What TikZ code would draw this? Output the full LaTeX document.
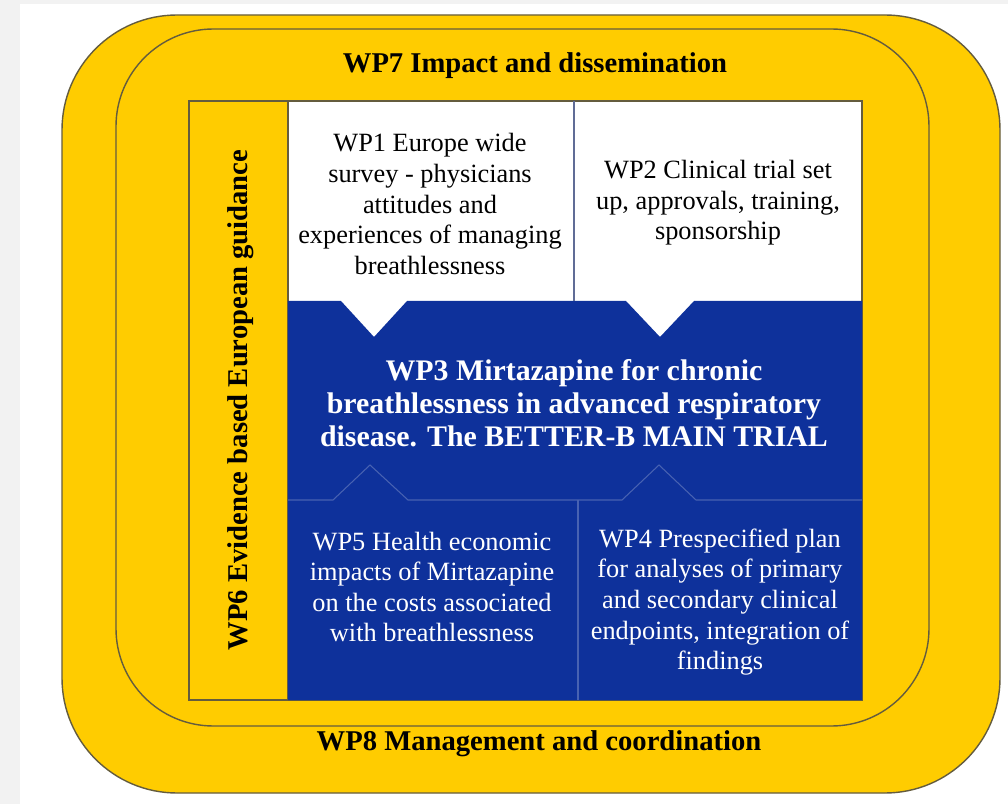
\documentclass[tikz,border=0pt]{standalone}
\usepackage{fontspec}
\setmainfont{Liberation Serif}

% 定义颜色
\definecolor{wpyellow}{RGB}{255,204,0}
\definecolor{wpblue}{RGB}{14,49,155}
\definecolor{wpedge}{RGB}{100,92,62}
\definecolor{wpthin}{RGB}{72,98,178}
\definecolor{wpgrid}{RGB}{96,108,150}
\definecolor{pagegray}{RGB}{242,242,242}

\tikzset{
  frame/.style={draw=wpedge, line width=0.8pt, fill=wpyellow},
  heading/.style={font=\bfseries\fontsize{16.3}{19}\selectfont, inner sep=0pt},
  wptext/.style={font=\fontsize{15}{17.4}\selectfont, align=center, inner sep=0pt},
  wpmain/.style={font=\bfseries\fontsize{17}{18.8}\selectfont, align=center, inner sep=0pt, text=white}
}

\begin{document}
\begin{tikzpicture}[x=0.02cm, y=-0.02cm]

% 背景
\useasboundingbox (0,0) rectangle (1008,804);
\fill[pagegray] (0,0) rectangle (1008,804);
\fill[white] (20,4) rectangle (1008,804);

% 外框 WP8 和 WP7
\draw[frame, rounded corners=2.3cm] (62,15) rectangle (1000,793);
\draw[frame, rounded corners=1.95cm] (116,29) rectangle (929,726);

% 内部方框
\draw[wpedge, line width=0.7pt, fill=white] (189,101) rectangle (862,700);
\draw[wpedge, line width=0.7pt, fill=wpyellow] (189,101) rectangle (288,700);

% 蓝色区域，上方两个缺口
\fill[wpblue] (288,301) -- (341,301) -- (374,337) -- (407,301)
  -- (626,301) -- (660,337) -- (694,301) -- (862,301)
  -- (862,700) -- (288,700) -- cycle;
\draw[wpgrid, line width=0.6pt] (574,101) -- (574,301);

% 下方两个框的轮廓
\draw[wpthin, line width=0.6pt] (288,500) -- (333,500) -- (370,465) -- (408,500)
  -- (622,500) -- (659,465) -- (696,500) -- (862,500);
\draw[wpthin, line width=0.6pt] (578,500) -- (578,700);

% 文字
\node[heading] (wp7) at (535,65.5) {WP7 Impact and dissemination};
\node[heading] (wp8) at (539,744) {WP8 Management and coordination};
\node[heading, rotate=90] (wp6) at (241,400) {WP6 Evidence based European guidance};

\node[wptext] (wp1) at (430,204) {WP1 Europe wide\\survey - physicians\\attitudes and\\experiences of managing\\breathlessness};
\node[wptext] (wp2) at (718,203) {WP2 Clinical trial set\\up, approvals, training,\\sponsorship};
\node[wpmain] (wp3) at (574,403) {WP3 Mirtazapine for chronic\\breathlessness in advanced respiratory\\disease. The BETTER-B MAIN TRIAL};
\node[wptext, text=white] (wp5) at (432,587) {WP5 Health economic\\impacts of Mirtazapine\\on the costs associated\\with breathlessness};
\node[wptext, text=white] (wp4) at (720,602) {WP4 Prespecified plan\\for analyses of primary\\and secondary clinical\\endpoints, integration of\\findings};

\end{tikzpicture}
\end{document}
